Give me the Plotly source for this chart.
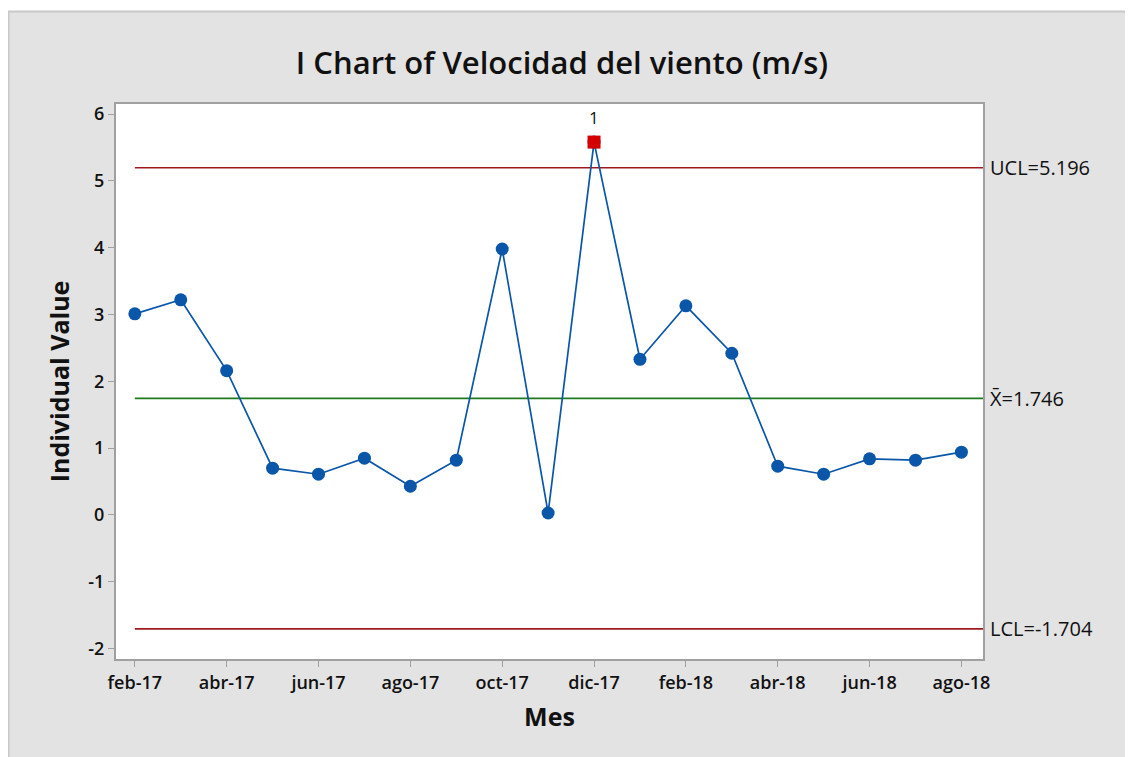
import plotly.graph_objects as go

months = ["feb-17", "mar-17", "abr-17", "may-17", "jun-17", "jul-17", "ago-17", "sep-17",
          "oct-17", "nov-17", "dic-17", "ene-18", "feb-18", "mar-18", "abr-18", "may-18",
          "jun-18", "jul-18", "ago-18"]
values = [3.01, 3.22, 2.16, 0.70, 0.61, 0.85, 0.43, 0.82, 3.98, 0.03, 5.58, 2.33,
          3.13, 2.42, 0.73, 0.61, 0.84, 0.82, 0.94]
ucl = 5.196
center = 1.746
lcl = -1.704
out_idx = [10]
out_labels = ["1"]
y_ticks = [-2, -1, 0, 1, 2, 3, 4, 5, 6]

FONT = "Open Sans"
BLUE = "#0A56A8"
DARKRED = "#9E1A1E"
GREEN = "#1F7A1F"

x = list(range(len(values)))
# page has an 8px body margin, so the figure origin is at page (8, 8)
W, H = 1125, 749
L, T = 108, 96
R = W - 975
B = H - 651
pw, ph = W - L - R, H - T - B

def px_x(p):
    return (p - L) / pw

def px_y(p):
    return 1 - (p - T) / ph

fig = go.Figure()
fig.add_trace(go.Scatter(
    x=x, y=values, mode="lines+markers",
    line=dict(color=BLUE, width=1.7),
    marker=dict(color=BLUE, size=13),
    showlegend=False, hoverinfo="x+y"))
fig.add_trace(go.Scatter(
    x=[x[i] for i in out_idx], y=[values[i] for i in out_idx], mode="markers",
    marker=dict(color="#D40000", size=13, symbol="square"),
    showlegend=False))

xmax = len(values) - 1 + 0.47
for val, col in [(ucl, DARKRED), (center, GREEN), (lcl, DARKRED)]:
    fig.add_shape(type="line", xref="x", yref="y", x0=0, x1=xmax, y0=val, y1=val,
                  line=dict(color=col, width=1.7), layer="below")

labels = [(ucl, f"UCL={ucl:.3f}"), (center, f"X\u0304={center:.3f}"), (lcl, f"LCL={lcl:.3f}")]
for val, txt in labels:
    fig.add_annotation(x=1.0, xref="paper", y=val, yref="y", text=txt, showarrow=False,
                       xanchor="left", xshift=5, font=dict(family=FONT, size=20, color="#111"))

for i, lab in zip(out_idx, out_labels):
    fig.add_annotation(x=x[i], y=values[i], text=lab, showarrow=False, yshift=25,
                       font=dict(family=FONT, size=17, color="#111"))

# white outer strip at the top and light border of the frame
fig.add_shape(type="rect", xref="paper", yref="paper", x0=px_x(-5), x1=px_x(W + 5),
              y0=px_y(3), y1=px_y(-5), fillcolor="white", line=dict(width=0), layer="below")
fig.add_shape(type="line", xref="paper", yref="paper", x0=px_x(0), x1=px_x(W + 5),
              y0=px_y(3.5), y1=px_y(3.5), line=dict(color="#C8C8C8", width=2), layer="below")
fig.add_shape(type="line", xref="paper", yref="paper", x0=px_x(0.5), x1=px_x(0.5),
              y0=px_y(3), y1=px_y(H + 5), line=dict(color="#C8C8C8", width=2), layer="below")

fig.update_layout(
    width=W, height=H,
    margin=dict(l=L, r=R, t=T, b=B),
    paper_bgcolor="#E3E3E3", plot_bgcolor="white",
    title=dict(text="I Chart of Velocidad del viento (m/s)", x=(562 - 8) / W, xref="container",
               xanchor="center", y=1 - 55 / H, yanchor="middle",
               font=dict(family=FONT, size=31, color="#111", weight=600)),
    font=dict(family=FONT, color="#111"),
)
fig.update_xaxes(
    range=[-0.41, xmax], tickmode="array", tickvals=x[::2], ticktext=months[::2],
    showgrid=False, zeroline=False, showline=True, linecolor="#A0A0A0", linewidth=2,
    mirror=True, ticks="outside", ticklen=6, tickcolor="#A0A0A0",
    tickfont=dict(family=FONT, size=18, color="#111", weight=600),
    title=dict(text="Mes", font=dict(family=FONT, size=25, color="#111", weight="bold"), standoff=16))
fig.update_yaxes(
    range=[-2.155, 6.15], tickmode="array", tickvals=y_ticks, ticktext=[str(v) for v in y_ticks],
    showgrid=False, zeroline=False, showline=True, linecolor="#A0A0A0", linewidth=2,
    mirror=True, ticks="outside", ticklen=6, tickcolor="#A0A0A0",
    tickfont=dict(family=FONT, size=18, color="#111", weight=600),
    title=dict(text="Individual Value", font=dict(family=FONT, size=25, color="#111", weight="bold"), standoff=12))

fig.write_html("out.html")
